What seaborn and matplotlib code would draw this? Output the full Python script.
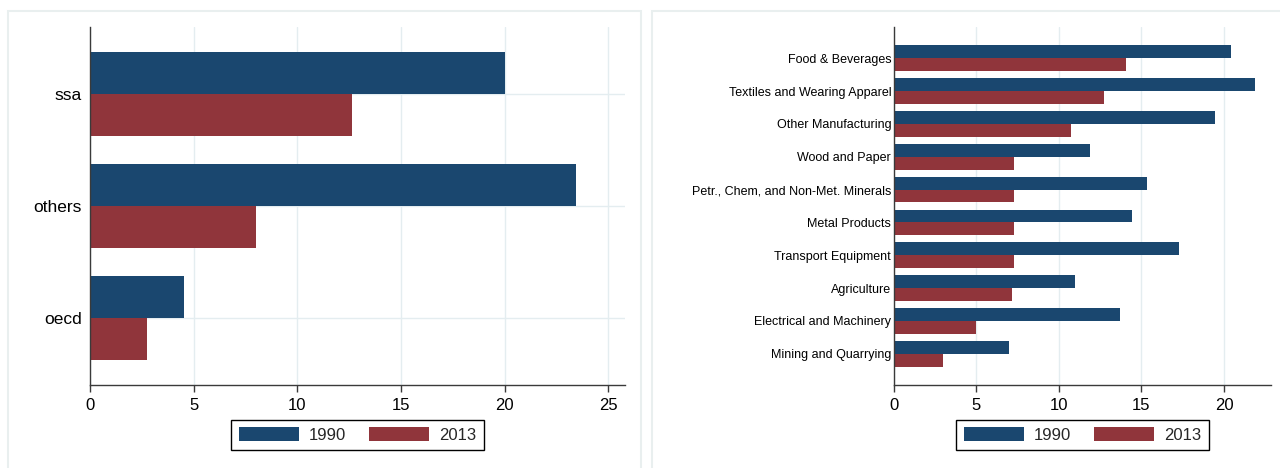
import pandas as pd
import matplotlib.pyplot as plt
import seaborn as sns
from matplotlib.patches import Patch, Rectangle

# Data
years = ["1990", "2013"]

regions = ["ssa", "others", "oecd"]
region_1990 = [20.0, 23.45, 4.55]
region_2013 = [12.65, 8.0, 2.75]

sectors = [
    "Food & Beverages",
    "Textiles and Wearing Apparel",
    "Other Manufacturing",
    "Wood and Paper",
    "Petr., Chem, and Non-Met. Minerals",
    "Metal Products",
    "Transport Equipment",
    "Agriculture",
    "Electrical and Machinery",
    "Mining and Quarrying",
]
sector_1990 = [20.45, 21.85, 19.45, 11.9, 15.35, 14.45, 17.3, 10.95, 13.7, 7.0]
sector_2013 = [14.05, 12.75, 10.7, 7.3, 7.3, 7.25, 7.25, 7.15, 5.0, 2.95]

navy = "#1a476f"
maroon = "#90353b"
grid_col = "#e4edf0"
axis_col = "#3a3a3a"

region_df = pd.DataFrame({
    "group": regions * 2,
    "value": region_1990 + region_2013,
    "year": [years[0]] * len(regions) + [years[1]] * len(regions),
})
sector_df = pd.DataFrame({
    "group": sectors * 2,
    "value": sector_1990 + sector_2013,
    "year": [years[0]] * len(sectors) + [years[1]] * len(sectors),
})

sns.set_style("white")
plt.rcParams["font.family"] = ["Liberation Sans", "DejaVu Sans"]

W, H = 1280, 468
fig = plt.figure(figsize=(12.8, 4.68), dpi=100)

# panel frames (graph regions)
fig.add_artist(Rectangle((8 / W, -0.01), (641 - 8) / W, (H - 11) / H + 0.01,
                         transform=fig.transFigure, fill=False,
                         edgecolor="#e9efef", lw=1.5))
fig.add_artist(Rectangle((652 / W, -0.01), (W + 5 - 652) / W, (H - 11) / H + 0.01,
                         transform=fig.transFigure, fill=False,
                         edgecolor="#e9efef", lw=1.5))

ax1 = fig.add_axes([90 / W, 1 - 385 / H, (625 - 90) / W, (385 - 27) / H])
ax2 = fig.add_axes([894 / W, 1 - 385 / H, (1271 - 894) / W, (385 - 27) / H])


def draw(ax, df, width, xmax, ylim, label_size, label_pad, hgrid):
    ax.set_axisbelow(True)
    sns.barplot(data=df, y="group", x="value", hue="year", orient="h",
                palette=[navy, maroon], width=width, gap=0, saturation=1,
                linewidth=0, legend=False, ax=ax)
    ax.set_xlim(0, xmax)
    ax.set_ylim(*ylim)
    ax.set_xticks(range(0, int(xmax) + 1, 5))
    ax.set_xlabel("")
    ax.set_ylabel("")
    ax.grid(axis="x", color=grid_col, lw=1)
    if hgrid:
        ax.grid(axis="y", color=grid_col, lw=1)
    for s in ["top", "right"]:
        ax.spines[s].set_visible(False)
    for s in ["left", "bottom"]:
        ax.spines[s].set_color(axis_col)
        ax.spines[s].set_linewidth(1)
    ax.tick_params(axis="x", length=5, width=1, color=axis_col, pad=4,
                   labelsize=12, labelcolor="black", bottom=True)
    ax.tick_params(axis="y", length=0, pad=label_pad, labelsize=label_size,
                   labelcolor="black")


draw(ax1, region_df, 0.75, 25.8, (2.6, -0.6), 12.5, 6, True)
draw(ax2, sector_df, 0.78, 22.85, (9.95, -0.95), 9, 2, False)

handles = [Patch(facecolor=navy, edgecolor="none"),
           Patch(facecolor=maroon, edgecolor="none")]
for ax in [ax1, ax2]:
    pos = ax.get_position()
    cx = (pos.x0 + pos.x1) / 2
    leg = fig.legend(handles, years, loc="center", bbox_to_anchor=(cx, 1 - 435 / H),
                     ncol=2, frameon=True, fancybox=False, fontsize=12,
                     handlelength=3.6, handleheight=0.95, handletextpad=0.6,
                     columnspacing=1.4, borderpad=0.45)
    leg.get_frame().set_edgecolor("black")
    leg.get_frame().set_linewidth(1)
    leg.get_frame().set_alpha(1)

fig.savefig("out.png", dpi=100)
